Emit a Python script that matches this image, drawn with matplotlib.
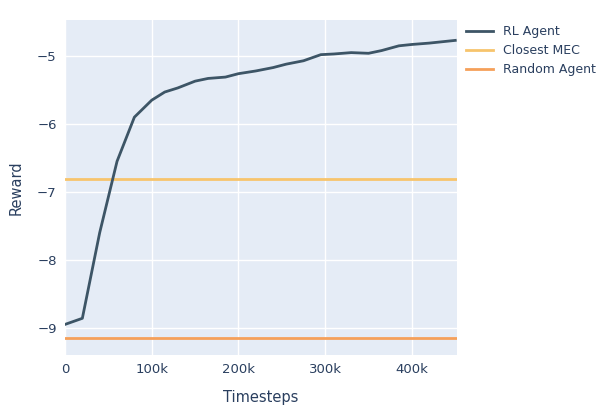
import numpy as np
import matplotlib.pyplot as plt

timesteps = [0, 20e3, 40e3, 60e3, 80e3, 100e3, 115e3, 130e3, 150e3, 165e3, 185e3, 200e3,
             220e3, 240e3, 255e3, 275e3, 295e3, 310e3, 330e3, 350e3, 365e3, 385e3, 400e3, 420e3, 450e3]
rl_reward = [-8.95, -8.86, -7.6, -6.55, -5.9, -5.65, -5.53, -5.47, -5.37, -5.33, -5.31, -5.26,
             -5.22, -5.17, -5.12, -5.07, -4.98, -4.97, -4.95, -4.96, -4.92, -4.85, -4.83, -4.81, -4.77]
closest_mec = -6.81
random_agent = -9.15

fig = plt.figure(figsize=(6.01, 4.15), dpi=100)
ax = fig.add_axes([65/601, 60/415, 392/601, 335/415])
ax.set_facecolor("#e5ecf6")
ax.plot(timesteps, rl_reward, color="#3d5566", lw=2, label="RL Agent", zorder=3)
ax.axhline(closest_mec, color="#f7c46c", lw=2, label="Closest MEC")
ax.axhline(random_agent, color="#f5a05a", lw=2, label="Random Agent")
ax.set_xlim(0, 452e3)
ax.set_ylim(-9.4, -4.47)
ax.set_xticks([0, 100e3, 200e3, 300e3, 400e3])
ax.set_xticklabels(["0", "100k", "200k", "300k", "400k"])
ax.set_yticks([-9, -8, -7, -6, -5])
ax.set_yticklabels(["−9", "−8", "−7", "−6", "−5"])
ax.grid(color="white", lw=1)
ax.set_axisbelow(True)
for s in ax.spines.values():
    s.set_visible(False)
ax.tick_params(length=0, colors="#2a3f5f", labelsize=9.5, pad=6)
ax.set_xlabel("Timesteps", color="#2a3f5f", fontsize=10.5, labelpad=10)
ax.set_ylabel("Reward", color="#2a3f5f", fontsize=10.5, labelpad=10)
leg = ax.legend(loc="upper left", bbox_to_anchor=(1.01, 1.0), frameon=False, fontsize=9,
                handlelength=2.2, labelcolor="#2a3f5f", borderaxespad=0)
fig.savefig("out.png", dpi=100)
